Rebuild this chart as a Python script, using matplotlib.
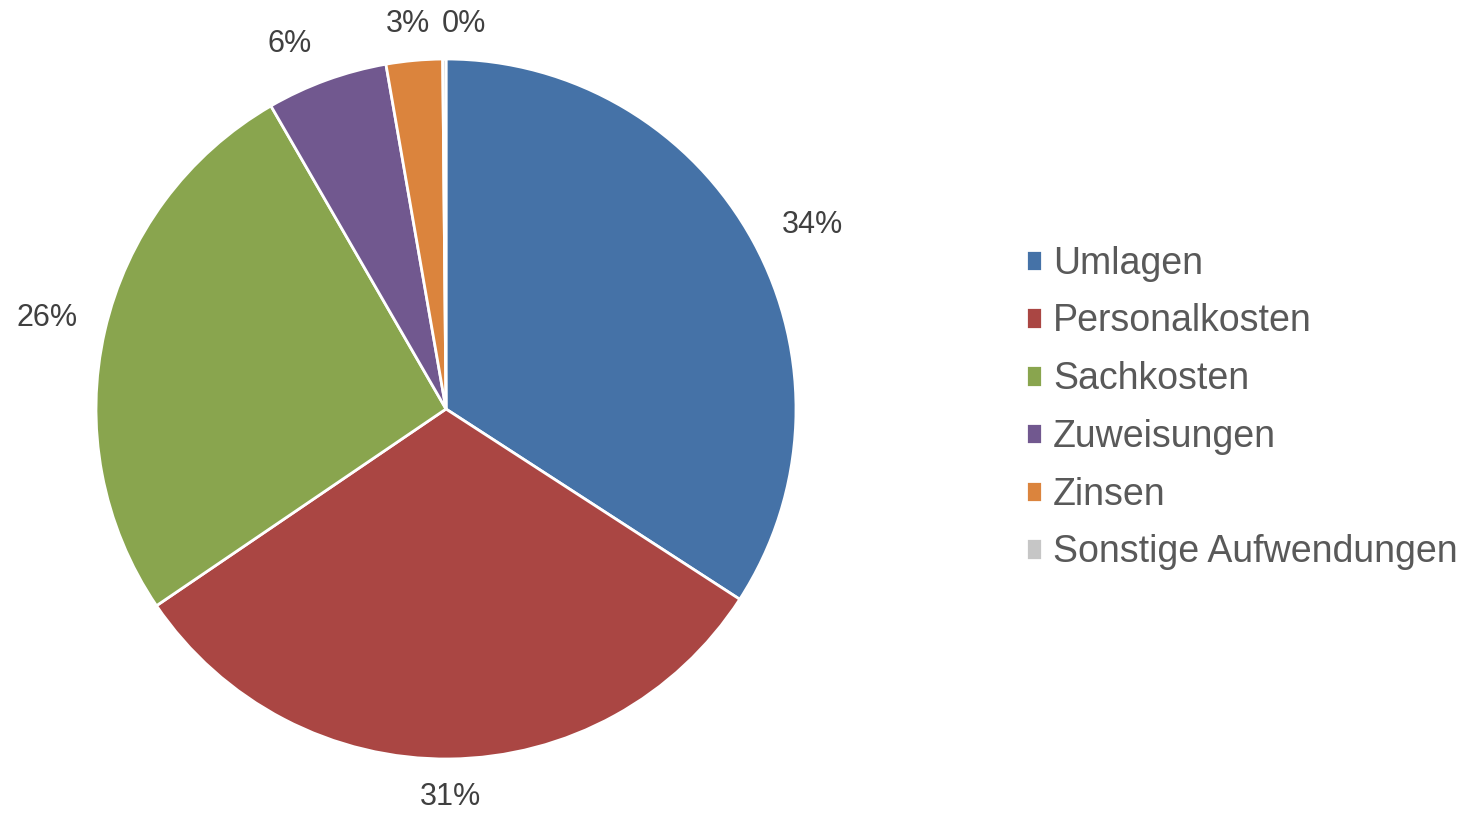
import numpy as np
import matplotlib
matplotlib.use("Agg")
import matplotlib.pyplot as plt

plt.rcParams['font.family'] = ['Liberation Sans', 'DejaVu Sans']

# Aufwendungen by type (percent)
categories = ["Umlagen", "Personalkosten", "Sachkosten", "Zuweisungen", "Zinsen", "Sonstige Aufwendungen"]
shares = [34.2, 31.4, 26.2, 5.6, 2.6, 0.15]
colors = ["#4572A7", "#AA4643", "#89A54E", "#71588F", "#DB843D", "#C6C6C6"]

# label placement (radius factor, nudges) - mimic excel's best fit
label_dist = [1.17, 1.11, 1.17, 1.14, 1.11, 1.11]
label_dx = [0.02, 0.0, 0.0, -0.057, -0.009, 0.057]
label_dy = [-0.034, 0.0, 0.0, -0.029, -0.006, -0.009]

fig = plt.figure(figsize=(14.68, 8.15), dpi=100)
ax = fig.add_axes([96 / 1468, 56 / 815, 700 / 1468, 700 / 815])

wedges, _ = ax.pie(shares, colors=colors, startangle=90, counterclock=False,
                   wedgeprops=dict(edgecolor="white", linewidth=2))
ax.set_xlim(-1, 1)
ax.set_ylim(-1, 1)
ax.set_aspect("equal")

total = sum(shares)
for w, val, d, dx, dy in zip(wedges, shares, label_dist, label_dx, label_dy):
    ang = np.deg2rad((w.theta1 + w.theta2) / 2)
    ax.text(d * np.cos(ang) + dx, d * np.sin(ang) + dy, "{:.0f}%".format(val / total * 100),
            ha="center", va="center", fontsize=22, color="#404040")

fig.legend(wedges, categories, loc="center left", bbox_to_anchor=(1026 / 1468, 1 - 408 / 815),
           frameon=False, fontsize=27, labelcolor="#595959", handlelength=0.42,
           handleheight=0.5, handletextpad=0.3, labelspacing=0.58, borderpad=0,
           borderaxespad=0)

fig.savefig("out.png", dpi=100)
